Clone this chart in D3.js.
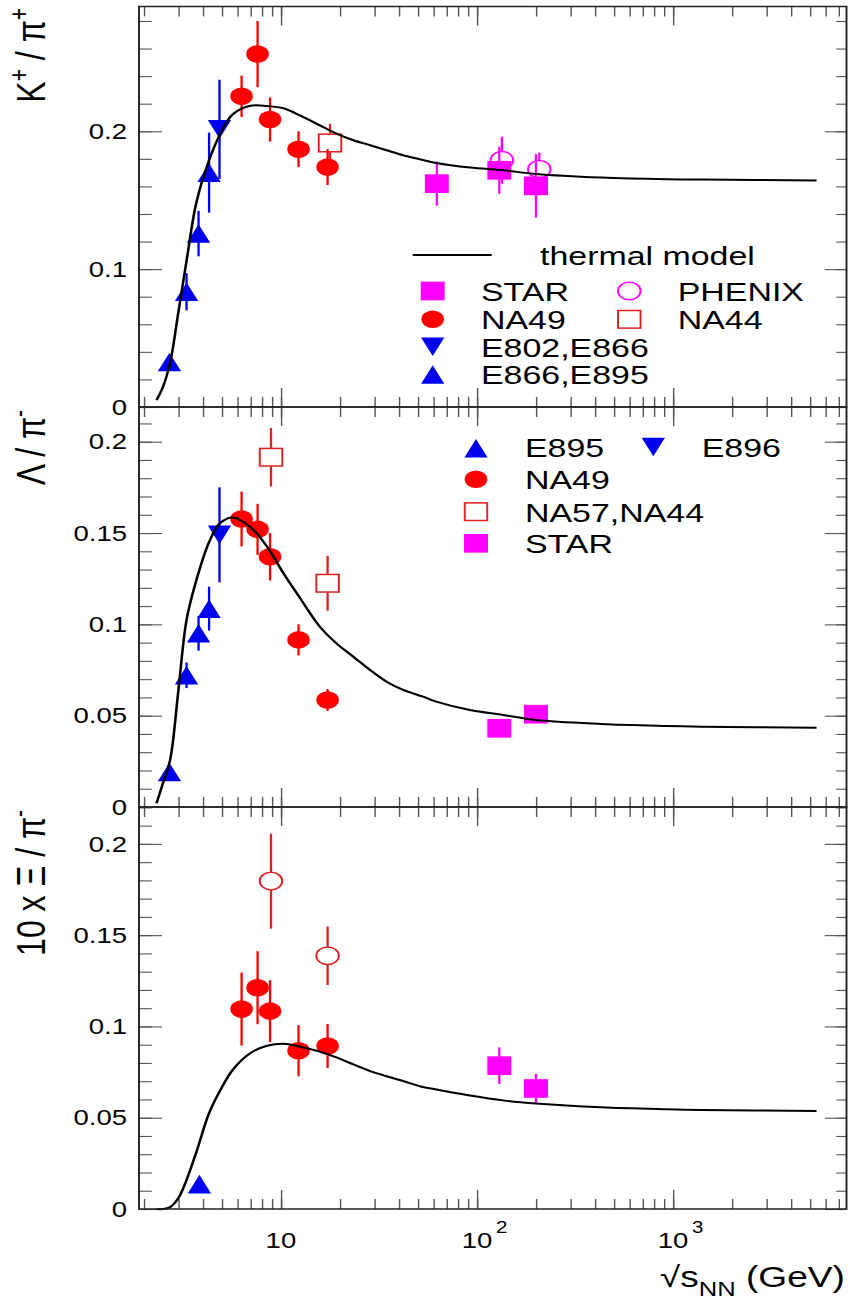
<!DOCTYPE html>
<html>
<head>
<meta charset="utf-8">
<script src="https://cdn.jsdelivr.net/npm/d3@7"></script>
<style>
  body { margin: 0; background: #fff; }
  svg { display: block; }
  text { font-family: "Liberation Sans", Arial, Helvetica, sans-serif; fill: #000; }
</style>
</head>
<body>
<svg id="chart"></svg>
<script>
// ---- data ----

// thermal model, one energy grid for all three panels
const modelEnergy = [2.32, 2.5, 2.72, 3.0, 3.3, 3.7, 4.3, 4.9, 5.7, 7.0, 8.5, 10.3, 12.5, 15.8, 19.2, 23.4, 28.5, 34.6, 42, 53, 62, 92, 136, 200, 430, 930, 1400, 5400];
const modelKPi   = [0.005, 0.0145, 0.032, 0.069, 0.106, 0.148, 0.179, 0.198, 0.2125, 0.2185, 0.2183, 0.2167, 0.2115, 0.2043, 0.1983, 0.1935, 0.1899, 0.1862, 0.1826, 0.1792, 0.177, 0.1737, 0.1717, 0.169, 0.1664, 0.1652, 0.165, 0.1643];
const modelLamPi = [0.002, 0.013, 0.0257, 0.064, 0.1024, 0.124, 0.145, 0.1555, 0.1585, 0.1532, 0.1425, 0.128, 0.1145, 0.0987, 0.0896, 0.0823, 0.075, 0.0686, 0.0641, 0.0604, 0.0577, 0.0531, 0.0504, 0.0476, 0.0455, 0.0444, 0.044, 0.0434];
const modelXiPi  = [0, 0, 0.001, 0.006, 0.0159, 0.031, 0.0525, 0.065, 0.0765, 0.0855, 0.0894, 0.0905, 0.0889, 0.0862, 0.083, 0.0792, 0.0755, 0.0727, 0.0701, 0.0668, 0.0655, 0.0622, 0.0595, 0.0578, 0.0557, 0.0546, 0.0542, 0.0537];

// K+/pi+
const kAgsUpE   = [2.7, 3.3, 3.8, 4.3];
const kAgsUp    = [0.0326, 0.0836, 0.1258, 0.170];
const kAgsUpErr = [0.004, 0.0135, 0.0165, 0.029];
const kAgsDnE   = [4.86];
const kAgsDn    = [0.2014];
const kAgsDnErr = [0.036];
const kNa49E    = [6.3, 7.6, 8.8, 12.3, 17.3];
const kNa49     = [0.2254, 0.256, 0.2085, 0.187, 0.174];
const kNa49Err  = [0.015, 0.024, 0.016, 0.013, 0.013];
const kNa44E    = [17.8];
const kNa44     = [0.1915];
const kNa44Err  = [0.014];
const kStarE    = [62.4, 130, 200];
const kStar     = [0.162, 0.1717, 0.1604];
const kStarErr  = [0.016, 0.017, 0.023];
const kPhenixE  = [134, 208];
const kPhenix   = [0.179, 0.1725];
const kPhenixErr = [0.017, 0.012];

// Lambda/pi-
const lamE895E   = [2.7, 3.3, 3.8, 4.3];
const lamE895    = [0.0192, 0.0721, 0.0951, 0.1086];
const lamE895Err = [0.003, 0.007, 0.0095, 0.012];
const lamE896E   = [4.86];
const lamE896    = [0.149];
const lamE896Err = [0.026];
const lamNa49E   = [6.3, 7.6, 8.8, 12.3, 17.3];
const lamNa49    = [0.1577, 0.152, 0.137, 0.0915, 0.0586];
const lamNa49Err = [0.015, 0.014, 0.013, 0.0085, 0.006];
const lamNa57E   = [8.9, 17.3];
const lamNa57    = [0.1915, 0.1225];
const lamNa57Err = [0.016, 0.015];
const lamStarE   = [130, 200];
const lamStar    = [0.0431, 0.0508];
const lamStarErr = [0.002, 0.002];

// 10 x Xi/pi-
const xiE895E   = [3.84];
const xiE895    = [0.0136];
const xiE895Err = [0.002];
const xiNa49E   = [6.3, 7.6, 8.8, 12.3, 17.3];
const xiNa49    = [0.1095, 0.1212, 0.1084, 0.0867, 0.0893];
const xiNa49Err = [0.02, 0.02, 0.017, 0.014, 0.012];
const xiNa57E   = [8.9, 17.3];
const xiNa57    = [0.1796, 0.1387];
const xiNa57Err = [0.026, 0.016];
const xiStarE   = [130, 200];
const xiStar    = [0.0785, 0.066];
const xiStarErr = [0.01, 0.008];

// tick labels
const yLabelsK = ["0", "0.1", "0.2"];
const yLabelsFine = ["0", "0.05", "0.1", "0.15", "0.2"];
const xLabels = [["10", ""], ["10", "2"], ["10", "3"]];

// legends
const legendTopLabels = ["thermal model", "STAR", "PHENIX", "NA49", "NA44", "E802,E866", "E866,E895"];
const legendMidLabels = ["E895", "E896", "NA49", "NA57,NA44", "STAR"];

// ---- drawing ----
const W = 848, H = 1299;
const SX = 1.28;                       // the figure is stretched horizontally
const left = 139 / SX, right = 846.5 / SX;

const svg = d3.select('#chart')
    .attr('width', W)
    .attr('height', H)
    .attr('viewBox', `0 0 ${W / SX} ${H}`)
    .attr('preserveAspectRatio', 'none');

const BLUE = '#0000f0', RED = '#ff0000', MAG = '#ff00ff', DRED = '#dd2020';

const x = d3.scaleLog().domain([1.888, 7674]).range([left, right]);

const zip = (e, v, er) => e.map((d, i) => ({ e: d, v: v[i], err: er[i] }));

const panels = [
    {
        top: 6.5, bottom: 407, max: 0.2905, minor: 0.02, major: 0.1, labels: yLabelsK,
        model: modelKPi,
        series: [
            { pts: zip(kNa44E, kNa44, kNa44Err), shape: 'square', color: DRED, open: true },
            { pts: zip(kAgsUpE, kAgsUp, kAgsUpErr), shape: 'up', color: BLUE },
            { pts: zip(kAgsDnE, kAgsDn, kAgsDnErr), shape: 'down', color: BLUE },
            { pts: zip(kNa49E, kNa49, kNa49Err), shape: 'circle', color: RED },
            { pts: zip(kStarE, kStar, kStarErr), shape: 'square', color: MAG },
            { pts: zip(kPhenixE, kPhenix, kPhenixErr), shape: 'circle', color: MAG, open: true }
        ]
    },
    {
        top: 407, bottom: 807, max: 0.219, minor: 0.01, major: 0.05, labels: yLabelsFine,
        model: modelLamPi,
        series: [
            { pts: zip(lamE895E, lamE895, lamE895Err), shape: 'up', color: BLUE },
            { pts: zip(lamE896E, lamE896, lamE896Err), shape: 'down', color: BLUE },
            { pts: zip(lamNa49E, lamNa49, lamNa49Err), shape: 'circle', color: RED },
            { pts: zip(lamNa57E, lamNa57, lamNa57Err), shape: 'square', color: DRED, open: true },
            { pts: zip(lamStarE, lamStar, lamStarErr), shape: 'square', color: MAG }
        ]
    },
    {
        top: 807, bottom: 1209, max: 0.2202, minor: 0.01, major: 0.05, labels: yLabelsFine,
        model: modelXiPi,
        series: [
            { pts: zip(xiE895E, xiE895, xiE895Err), shape: 'up', color: BLUE },
            { pts: zip(xiNa49E, xiNa49, xiNa49Err), shape: 'circle', color: RED },
            { pts: zip(xiNa57E, xiNa57, xiNa57Err), shape: 'circle', color: DRED, open: true },
            { pts: zip(xiStarE, xiStar, xiStarErr), shape: 'square', color: MAG }
        ]
    }
];

// marker geometry (internal units), half extents in y
const HALF = { circle: 8.8, square: 9.3, up: 9.3, down: 9.3 };

function drawMarker(g, shape, cx, cy, color, open) {
    const fill = open ? 'none' : color;
    const sw = open ? 1.5 : 0;
    if (shape === 'circle') {
        g.append('circle').attr('cx', cx).attr('cy', cy).attr('r', 8.8)
            .attr('fill', fill).attr('stroke', color).attr('stroke-width', sw);
    } else if (shape === 'square') {
        const s = open ? 17.6 : 18.7;
        g.append('rect').attr('x', cx - s / 2).attr('y', cy - s / 2).attr('width', s).attr('height', s)
            .attr('fill', fill).attr('stroke', color).attr('stroke-width', sw);
    } else {
        const w = 9.1, h = 9.3, d = shape === 'up' ? 1 : -1;
        g.append('path')
            .attr('d', `M${cx},${cy - d * h}L${cx + w},${cy + d * h}L${cx - w},${cy + d * h}Z`)
            .attr('fill', color);
    }
}

const line = d3.line().curve(d3.curveCatmullRom.alpha(0.5));

panels.forEach(p => {
    const y = d3.scaleLinear().domain([0, p.max]).range([p.bottom, p.top]);
    const g = svg.append('g');

    // ticks on all four sides via d3 axes
    const minorY = d3.range(0, p.max + 1e-9, p.minor).map(v => +v.toFixed(4));
    const majorY = minorY.filter(v => Math.abs(v / p.major - Math.round(v / p.major)) < 1e-6);
    const allX = x.ticks();
    const majorX = allX.filter(v => Math.abs(Math.log10(v) - Math.round(Math.log10(v))) < 1e-9);

    const tickStyle = sel => {
        sel.select('.domain').remove();
        sel.selectAll('line').attr('stroke', '#555').attr('stroke-width', 1.1);
    };
    g.append('g').attr('transform', `translate(${left},0)`)
        .call(d3.axisRight(y).tickValues(minorY).tickSize(10).tickFormat('')).call(tickStyle);
    g.append('g').attr('transform', `translate(${left},0)`)
        .call(d3.axisRight(y).tickValues(majorY).tickSize(18).tickFormat('')).call(tickStyle);
    g.append('g').attr('transform', `translate(${right},0)`)
        .call(d3.axisLeft(y).tickValues(minorY).tickSize(8).tickFormat('')).call(tickStyle);
    g.append('g').attr('transform', `translate(${right},0)`)
        .call(d3.axisLeft(y).tickValues(majorY).tickSize(17).tickFormat('')).call(tickStyle);
    g.append('g').attr('transform', `translate(0,${p.bottom})`)
        .call(d3.axisTop(x).tickValues(allX).tickSize(10).tickFormat('')).call(tickStyle);
    g.append('g').attr('transform', `translate(0,${p.bottom})`)
        .call(d3.axisTop(x).tickValues(majorX).tickSize(19).tickFormat('')).call(tickStyle);
    g.append('g').attr('transform', `translate(0,${p.top})`)
        .call(d3.axisBottom(x).tickValues(allX).tickSize(10).tickFormat('')).call(tickStyle);
    g.append('g').attr('transform', `translate(0,${p.top})`)
        .call(d3.axisBottom(x).tickValues(majorX).tickSize(19).tickFormat('')).call(tickStyle);

    // y tick labels
    g.selectAll('text.ylab').data(p.labels).join('text')
        .attr('class', 'ylab')
        .attr('x', 127 / SX)
        .attr('y', d => y(+d))
        .attr('dy', '0.36em')
        .attr('text-anchor', 'end')
        .attr('font-size', 21.5)
        .text(d => d);

    // markers with error bars
    p.series.forEach(s => {
        s.pts.forEach(d => {
            const cx = x(d.e), cy = y(d.v);
            const y1 = y(d.v + d.err), y2 = y(d.v - d.err);
            const gap = s.open ? HALF[s.shape] : 0;
            if (s.open) {
                if (cy - gap > y1) g.append('line').attr('x1', cx).attr('x2', cx).attr('y1', y1).attr('y2', cy - gap)
                    .attr('stroke', s.color).attr('stroke-width', 1.8);
                if (cy + gap < y2) g.append('line').attr('x1', cx).attr('x2', cx).attr('y1', cy + gap).attr('y2', y2)
                    .attr('stroke', s.color).attr('stroke-width', 1.8);
            } else {
                g.append('line').attr('x1', cx).attr('x2', cx).attr('y1', y1).attr('y2', y2)
                    .attr('stroke', s.color).attr('stroke-width', 1.8);
            }
            drawMarker(g, s.shape, cx, cy, s.color, s.open);
        });
    });

    // thermal model curve
    g.append('path')
        .attr('d', line(modelEnergy.map((e, i) => [x(e), y(p.model[i])])))
        .attr('fill', 'none')
        .attr('stroke', '#000')
        .attr('stroke-width', 2);

    // frame
    g.append('rect')
        .attr('x', left).attr('y', p.top)
        .attr('width', right - left).attr('height', p.bottom - p.top)
        .attr('fill', 'none').attr('stroke', '#222').attr('stroke-width', 1.5);
});

// x tick labels
const xTickVals = [10, 100, 1000];
xTickVals.forEach((v, i) => {
    svg.append('text')
        .attr('x', x(v)).attr('y', 1248)
        .attr('text-anchor', 'middle').attr('font-size', 21.5)
        .text(xLabels[i][0]);
    if (xLabels[i][1]) {
        svg.append('text')
            .attr('x', x(v) + 19 / SX).attr('y', 1233)
            .attr('font-size', 16)
            .text(xLabels[i][1]);
    }
});

// axis titles
function rotTitle(parts, bx, endY) {
    const t = svg.append('text')
        .attr('transform', `translate(${bx},${endY}) rotate(-90)`)
        .attr('text-anchor', 'end')
        .attr('font-size', 32);
    let shift = 0;
    parts.forEach(([s, sup]) => {
        const want = sup ? -13 : 0;
        t.append('tspan').attr('dy', want - shift).attr('font-size', sup ? 21 : 32).text(s);
        shift = want;
    });
    return t;
}
rotTitle([["K", 0], ["+", 1], [" / π", 0], ["+", 1]], 45 / SX, 8);
rotTitle([["Λ / π", 0], ["-", 1]], 45 / SX, 410);
rotTitle([["10 x Ξ / π", 0], ["-", 1]], 45 / SX, 810);

const xt = svg.append('text')
    .attr('x', 845 / SX).attr('y', 1287)
    .attr('text-anchor', 'end').attr('font-size', 29);
xt.append('tspan').text('√s');
xt.append('tspan').attr('dy', 9).attr('font-size', 20).text('NN');
xt.append('tspan').attr('dy', -9).text(' (GeV)');

// legend, top panel
const LEG_FS = 26.5;
const lg1 = svg.append('g');
lg1.append('line').attr('x1', 412.7 / SX).attr('x2', 491.7 / SX).attr('y1', 255).attr('y2', 255)
    .attr('stroke', '#000').attr('stroke-width', 2);
lg1.append('text').attr('x', 540 / SX).attr('y', 265).attr('font-size', LEG_FS).text(legendTopLabels[0]);
const top1 = [
    { lab: 1, shape: 'square', color: MAG, open: false, mx: 432.7, tx: 481, cy: 291, by: 301 },
    { lab: 2, shape: 'circle', color: MAG, open: true, mx: 629.3, tx: 677.7, cy: 291, by: 301 },
    { lab: 3, shape: 'circle', color: RED, open: false, mx: 432.7, tx: 481, cy: 319.3, by: 329.3 },
    { lab: 4, shape: 'square', color: DRED, open: true, mx: 629.3, tx: 677.7, cy: 319.3, by: 329.3 },
    { lab: 5, shape: 'down', color: BLUE, open: false, mx: 432.7, tx: 481, cy: 346.7, by: 356.7 },
    { lab: 6, shape: 'up', color: BLUE, open: false, mx: 432.7, tx: 481, cy: 374.5, by: 384 }
];
top1.forEach(r => {
    drawMarker(lg1, r.shape, r.mx / SX, r.cy, r.color, r.open);
    lg1.append('text').attr('x', r.tx / SX).attr('y', r.by).attr('font-size', LEG_FS).text(legendTopLabels[r.lab]);
});

// legend, middle panel
const lg2 = svg.append('g');
const mid = [
    { lab: 0, shape: 'up', color: BLUE, open: false, mx: 476, tx: 525, cy: 448.3, by: 456.7 },
    { lab: 1, shape: 'down', color: BLUE, open: false, mx: 653.3, tx: 701.7, cy: 447, by: 456.7 },
    { lab: 2, shape: 'circle', color: RED, open: false, mx: 476, tx: 525, cy: 479.3, by: 489.3 },
    { lab: 3, shape: 'square', color: DRED, open: true, mx: 476, tx: 525, cy: 511.7, by: 521.7 },
    { lab: 4, shape: 'square', color: MAG, open: false, mx: 476, tx: 525, cy: 543.3, by: 553.3 }
];
mid.forEach(r => {
    drawMarker(lg2, r.shape, r.mx / SX, r.cy, r.color, r.open);
    lg2.append('text').attr('x', r.tx / SX).attr('y', r.by).attr('font-size', LEG_FS).text(legendMidLabels[r.lab]);
});
</script>
</body>
</html>
